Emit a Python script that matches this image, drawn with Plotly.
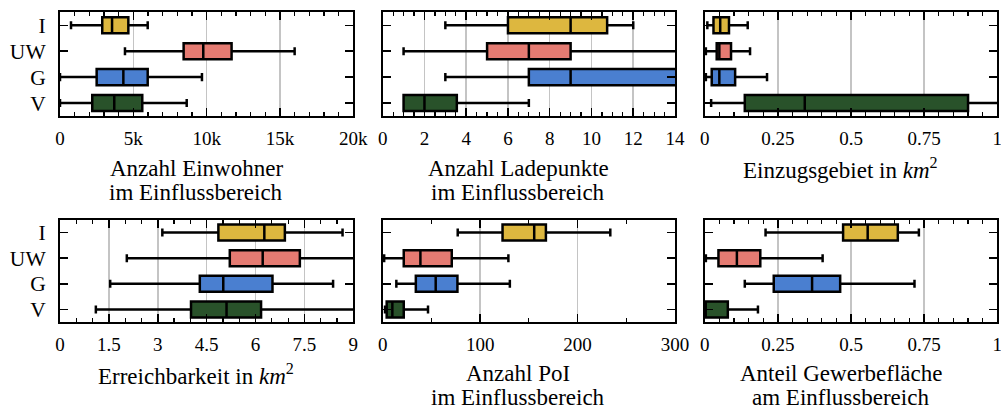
import plotly.graph_objects as go

categories = ["I", "UW", "G", "V"]
colors = ["#DDB73F", "#E57B72", "#4A7FD0", "#29522A"]

# Panel 1: Anzahl Einwohner im Einflussbereich
einw_low = [750, 4430, 0, 0]
einw_q1 = [2880, 8430, 2500, 2200]
einw_med = [3550, 9770, 4320, 3700]
einw_q3 = [4660, 11700, 5980, 5610]
einw_high = [5980, 16000, 9680, 8640]
einw_ticks = [0, 5000, 10000, 15000, 20000]
einw_ticktext = ["0", "5k", "10k", "15k", "20k"]

# Panel 2: Anzahl Ladepunkte im Einflussbereich
lp_low = [3.0, 1.0, 3.0, 1.0]
lp_q1 = [6.0, 5.0, 7.0, 1.0]
lp_med = [9.0, 7.0, 9.0, 2.0]
lp_q3 = [10.75, 9.0, 14.5, 3.55]
lp_high = [12.0, 15.0, 16.0, 7.0]

# Panel 3: Einzugsgebiet in km^2
ez_low = [0.009, 0.004, 0.004, 0.022]
ez_q1 = [0.030, 0.041, 0.024, 0.137]
ez_med = [0.053, 0.050, 0.050, 0.342]
ez_q3 = [0.083, 0.090, 0.104, 0.900]
ez_high = [0.147, 0.155, 0.213, 1.100]

# Panel 4: Erreichbarkeit in km^2
er_low = [3.14, 2.05, 1.54, 1.10]
er_q1 = [4.86, 5.21, 4.29, 4.02]
er_med = [6.27, 6.22, 5.01, 5.11]
er_q3 = [6.90, 7.36, 6.52, 6.17]
er_high = [8.67, 9.60, 8.38, 9.60]

# Panel 5: Anzahl PoI im Einflussbereich
poi_low = [77, 1.5, 14, 2.4]
poi_q1 = [123, 21.6, 34, 4.1]
poi_med = [155.5, 38.7, 54.4, 9.9]
poi_q3 = [167.5, 70.9, 76.7, 21.6]
poi_high = [233.6, 129, 130.5, 46.5]

# Panel 6: Anteil Gewerbefläche am Einflussbereich
gw_low = [0.208, 0.004, 0.137, 0.0]
gw_q1 = [0.473, 0.047, 0.236, 0.0]
gw_med = [0.557, 0.110, 0.367, 0.0]
gw_q3 = [0.660, 0.190, 0.463, 0.079]
gw_high = [0.732, 0.403, 0.717, 0.182]

FONT = "Liberation Serif, Times New Roman, serif"

panels = [
    dict(d=(einw_low, einw_q1, einw_med, einw_q3, einw_high), rng=[0, 20000], dtick=5000, minor=1000,
         tv=einw_ticks, tt=einw_ticktext, title=["Anzahl Einwohner", "im Einflussbereich"]),
    dict(d=(lp_low, lp_q1, lp_med, lp_q3, lp_high), rng=[0, 14], dtick=2, minor=0.5,
         tv=None, tt=None, title=["Anzahl Ladepunkte", "im Einflussbereich"]),
    dict(d=(ez_low, ez_q1, ez_med, ez_q3, ez_high), rng=[0, 1], dtick=0.25, minor=0.05,
         tv=None, tt=None, title=["Einzugsgebiet in <i>km</i><sup>2</sup>"]),
    dict(d=(er_low, er_q1, er_med, er_q3, er_high), rng=[0, 9], dtick=1.5, minor=0.5,
         tv=None, tt=None, title=["Erreichbarkeit in <i>km</i><sup>2</sup>"]),
    dict(d=(poi_low, poi_q1, poi_med, poi_q3, poi_high), rng=[0, 300], dtick=100, minor=50,
         tv=None, tt=None, title=["Anzahl PoI", "im Einflussbereich"]),
    dict(d=(gw_low, gw_q1, gw_med, gw_q3, gw_high), rng=[0, 1], dtick=0.25, minor=0.05,
         tv=None, tt=None, title=["Anteil Gewerbefläche", "am Einflussbereich"]),
]

W, H = 1001, 407
xdom_px = [(60, 353.3), (382.7, 675), (704.7, 997.3)]
ydom_px = [(12.3, 116), (219.7, 322.3)]

fig = go.Figure()
layout = dict(
    width=W, height=H, autosize=False, margin=dict(l=0, r=0, t=0, b=0, pad=0),
    paper_bgcolor="white", plot_bgcolor="white", showlegend=False,
    boxmode="overlay", font=dict(family=FONT, color="black", size=19),
)
annotations = []

for k, p in enumerate(panels):
    row, col = divmod(k, 3)
    ax = "" if k == 0 else str(k + 1)
    low, q1, med, q3, high = p["d"]
    for i, cat in enumerate(categories):
        fig.add_trace(go.Box(
            y=[cat], lowerfence=[low[i]], q1=[q1[i]], median=[med[i]], q3=[q3[i]],
            upperfence=[high[i]], orientation="h", fillcolor=colors[i],
            line=dict(color="black", width=2.5), width=0.62, whiskerwidth=0.5,
            boxpoints=False, hoverinfo="skip",
            xaxis="x" + ax, yaxis="y" + ax,
        ))
    x0, x1 = xdom_px[col]
    y0, y1 = ydom_px[row]
    xa = dict(
        domain=[x0 / W, x1 / W], range=p["rng"], anchor="y" + ax, automargin=False,
        ticks="inside", ticklen=8, tickwidth=1.5, tickcolor="black",
        mirror="allticks", showline=True, linecolor="black", linewidth=2,
        showgrid=True, gridcolor="#c4c4c4", gridwidth=1.5, zeroline=False,
        tickfont=dict(family=FONT, size=19, color="black"),
        minor=dict(ticks="inside", ticklen=4, tickwidth=1.2, tickcolor="black",
                   dtick=p["minor"], showgrid=False),
        ticklabelstandoff=4, ticklabeloverflow="allow",
    )
    if p["tv"] is not None:
        xa.update(tickmode="array", tickvals=p["tv"], ticktext=p["tt"])
    else:
        xa.update(tick0=0, dtick=p["dtick"])
    ya = dict(
        domain=[1 - y1 / H, 1 - y0 / H], anchor="x" + ax, type="category", automargin=False,
        categoryorder="array", categoryarray=categories, range=[3.5, -0.5],
        tickmode="array", tickvals=categories, ticktext=categories,
        ticks="inside", ticklen=8, tickwidth=1.5, tickcolor="black",
        mirror="allticks", showline=True, linecolor="black", linewidth=2,
        showgrid=False, zeroline=False, showticklabels=(col == 0),
        tickfont=dict(family=FONT, size=21.5, color="black"),
        ticklabelstandoff=8,
    )
    layout["xaxis" + ax] = xa
    layout["yaxis" + ax] = ya
    xc = ((x0 + x1) / 2 - 10.5) / W
    base = 168 if row == 0 else 373
    if len(p["title"]) == 1:
        ys = [base + 1]
    else:
        ys = [base, base + 24]
    for line, yy in zip(p["title"], ys):
        annotations.append(dict(
            text=line, x=xc, y=1 - yy / H, xref="paper", yref="paper",
            xanchor="center", yanchor="middle", showarrow=False,
            font=dict(family=FONT, size=23, color="black"),
        ))

layout["annotations"] = annotations
fig.update_layout(**layout)
fig.write_html(
    "out.html",
    config={"responsive": False, "displayModeBar": False, "staticPlot": True},
    post_script="document.body.style.margin='0';document.body.style.overflow='hidden';",
)
